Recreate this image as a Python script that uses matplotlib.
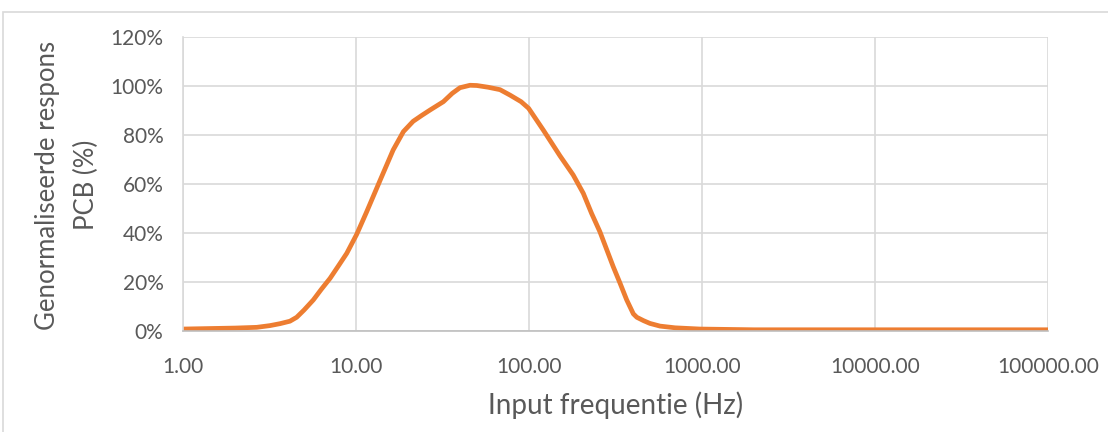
import matplotlib
matplotlib.use('Agg')
import matplotlib.pyplot as plt
import matplotlib.ticker as mticker
from matplotlib.patches import Rectangle

# frequency (Hz) and normalised response (%)
freq = [1.0, 2.0, 2.67, 3.18, 3.64, 4.15, 4.54, 5.0, 5.67, 6.3, 7.08, 7.9, 8.84,
        10.1, 11.5, 13.8, 16.4, 18.8, 21.4, 24.0, 26.8, 32.0,
        36.0, 39.9, 45.6, 49.9, 58.0, 68.0, 77.6, 90.0, 99.5, 121, 151, 180,
        206, 230, 257, 307, 336, 367, 401, 420, 460, 500, 572, 700, 973, 2000,
        10000, 100000]
resp = [0.8, 1.2, 1.5, 2.2, 3.0, 4.0, 5.6, 8.5, 12.7, 17.0, 21.5, 26.5, 31.7,
        39.5, 48.5, 61.6, 73.9, 81.4, 85.6, 88.0, 90.2, 93.6,
        97.0, 99.3, 100.3, 100.2, 99.5, 98.5, 96.3, 93.6, 90.9, 82.0, 71.5,
        63.7, 56.2, 48.0, 40.5, 26.2, 19.5, 12.7, 7.0, 5.6, 4.2, 3.1, 2.0, 1.3,
        0.8, 0.5, 0.5, 0.5]

x_ticks = [1, 10, 100, 1000, 10000, 100000]
y_ticks = [0, 20, 40, 60, 80, 100, 120]

text_col = '#595959'
grid_col = '#D9D9D9'
plt.rcParams['font.family'] = ['Lato', 'DejaVu Sans']

fig = plt.figure(figsize=(11.08, 4.32), dpi=100)
ax = fig.add_axes([183 / 1108, 1 - 331 / 432, 865 / 1108, 294 / 432])

# outer chart border
fig.patches.append(Rectangle((3 / 1108, -0.1), 1.2, 1.1 - 12 / 432, transform=fig.transFigure,
                             fill=False, edgecolor=grid_col, lw=1.2))

ax.plot(freq, resp, color='#ED7D31', lw=3.4, solid_joinstyle='round', solid_capstyle='butt')

ax.set_xscale('log')
ax.set_xlim(1, 100000)
ax.set_ylim(0, 120)
ax.xaxis.set_major_locator(mticker.FixedLocator(x_ticks))
ax.xaxis.set_minor_locator(mticker.NullLocator())
ax.set_xticks(x_ticks)
ax.set_xticklabels(['%.2f' % v for v in x_ticks])
ax.set_yticks(y_ticks)
ax.set_yticklabels(['%d%%' % v for v in y_ticks])
ax.tick_params(length=0, labelsize=15, labelcolor=text_col)
ax.tick_params(axis='x', pad=19)
ax.tick_params(axis='y', pad=14)

ax.grid(True, color=grid_col, lw=1.2)
ax.set_axisbelow(True)
for s in ['top', 'right']:
    ax.spines[s].set_visible(False)
ax.spines['left'].set_color(grid_col)
ax.spines['bottom'].set_color('#BFBFBF')
ax.spines['left'].set_linewidth(1.2)
ax.spines['bottom'].set_linewidth(1.2)

ax.set_xlabel('Input frequentie (Hz)', fontsize=20, color=text_col, labelpad=10)
fig.text(67 / 1108, 1 - 185 / 432, 'Genormaliseerde respons\nPCB (%)', rotation=90,
         ha='center', va='center', multialignment='center', fontsize=18.5,
         color=text_col, linespacing=1.7)

fig.savefig('out.png', dpi=100)
